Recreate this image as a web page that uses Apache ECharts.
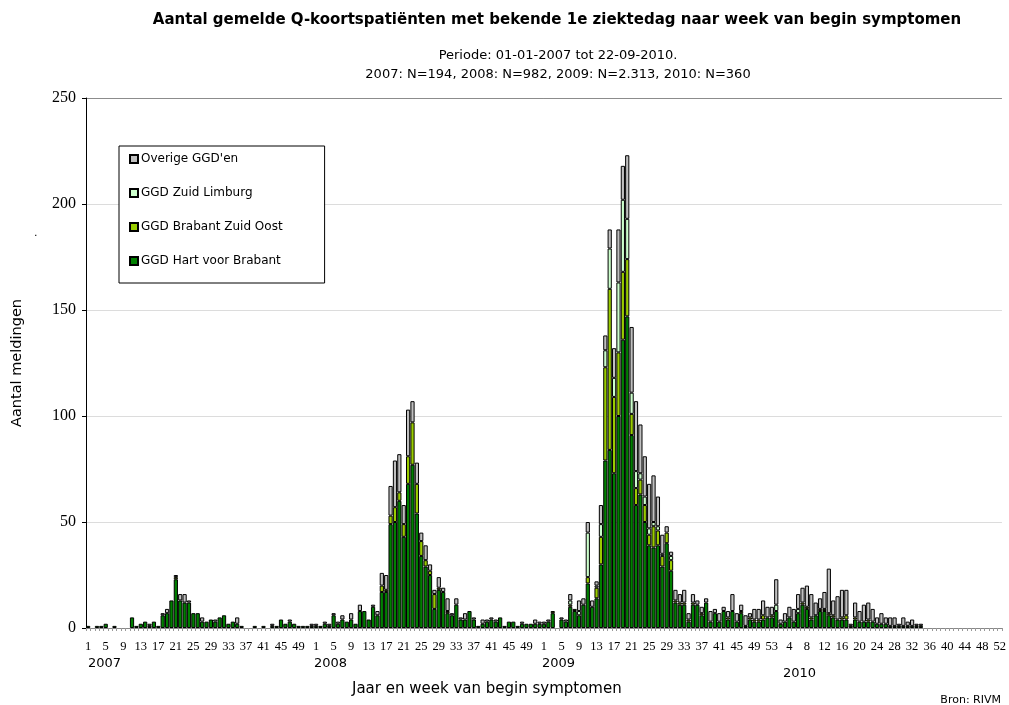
<!DOCTYPE html>
<html>
<head>
<meta charset="utf-8">
<script src="https://cdn.jsdelivr.net/npm/echarts@6/dist/echarts.min.js"></script>
<style>html,body{margin:0;padding:0;background:#fff}#c{width:1009px;height:705px}</style>
</head>
<body>
<div id="c"></div>
<script>
// Weeks per year on the category axis
const years = [2007, 2008, 2009, 2010];
const weeksPerYear = [52, 52, 53, 52];

// GGD Hart voor Brabant (dark green)
const hartVoorBrabant = [
  // 2007
  1,0,1,1,2,0,1,0,0,0, 5,1,2,3,1,3,1,6,7,13, 23,13,12,12,7,7,3,3,4,3, 5,6,2,3,2,1,0,0,1,0, 1,0,1,1,4,2,3,2,1,1, 1,1,
  // 2008
  1,1,2,1,6,2,4,3,4,2, 8,8,4,10,6,17,17,49,50,60, 43,68,77,54,34,29,25,9,18,17, 7,6,11,4,4,8,4,1,2,3, 4,3,5,1,3,3,1,2,2,2, 2,2,
  // 2009
  2,3,7,0,4,3,10,8,6,11, 21,10,14,30,79,84,73,100,136,147, 91,58,63,50,39,38,39,29,40,27, 12,11,11,3,11,11,6,12,3,7, 3,8,4,8,3,7,1,4,3,3, 4,5,5,
  // 2010
  8,2,3,5,3,7,11,9,4,6, 8,8,6,5,4,4,4,1,4,3, 3,3,3,2,2,2,1,1,1,1, 1,1,1,1,0,0,0,0,0,0, 0,0,0,0,0,0,0,0,0,0, 0,0
];
// GGD Brabant Zuid Oost (yellow green)
const brabantZuidOost = [
  // 2007
  0,0,0,0,0,0,0,0,0,0, 0,0,0,0,0,0,0,0,0,0, 1,0,0,0,0,0,0,0,0,0, 0,0,0,0,0,0,0,0,0,0, 0,0,0,0,0,0,0,0,0,0, 0,0,
  // 2008
  0,0,0,0,0,0,0,0,0,0, 0,0,0,0,0,3,1,4,7,4, 6,13,20,14,7,3,2,7,1,0, 1,0,0,0,0,0,0,0,0,0, 0,0,0,0,0,0,0,0,0,0, 0,0,
  // 2009
  0,0,1,0,0,0,1,1,0,0, 3,0,5,13,44,76,36,30,32,27, 10,8,7,8,5,10,7,5,5,5, 1,1,1,1,1,0,1,0,0,0, 0,0,1,0,0,1,0,1,1,1, 2,0,1,
  // 2010
  0,0,0,0,0,0,1,1,1,0, 1,1,1,1,0,1,2,0,1,0, 0,1,0,0,0,0,0,0,0,0, 0,0,0,0,0,0,0,0,0,0, 0,0,0,0,0,0,0,0,0,0, 0,0
];
// GGD Zuid Limburg (light green)
const zuidLimburg = [
  // 2007
  0,0,0,0,0,0,0,0,0,0, 0,0,0,0,0,0,0,0,0,0, 0,0,0,0,0,0,0,0,0,0, 0,0,0,0,0,0,0,0,0,0, 0,0,0,0,0,0,0,0,0,0, 0,0,
  // 2008
  0,0,0,0,0,0,0,0,0,0, 0,0,0,0,0,0,0,0,0,0, 0,0,0,0,0,0,0,0,0,0, 0,0,0,0,0,0,0,0,0,0, 0,0,0,0,0,0,0,0,0,0, 0,0,
  // 2009
  0,0,0,0,0,0,2,0,2,0, 21,0,1,6,8,19,9,33,34,19, 10,8,3,4,3,2,2,1,0,2, 0,0,0,0,0,0,0,0,0,0, 0,0,0,0,0,0,0,0,0,0, 0,0,0,
  // 2010
  3,0,0,0,0,2,0,0,0,0, 0,0,0,0,0,0,0,0,0,0, 0,0,0,0,0,0,0,0,0,0, 0,0,0,0,0,0,0,0,0,0, 0,0,0,0,0,0,0,0,0,0, 0,0
];
// Overige GGD'en (grey)
const overigeGGDen = [
  // 2007
  0,0,0,0,0,0,0,0,0,0, 0,0,0,0,1,0,0,1,2,0, 1,3,4,1,0,0,2,0,0,1, 0,0,0,0,3,0,0,0,0,0, 0,0,1,0,0,0,1,0,0,0, 0,1,
  // 2008
  1,0,1,1,1,1,2,0,3,0, 3,0,0,1,2,6,7,14,22,18, 9,22,10,10,4,7,3,2,5,2, 6,1,3,1,3,0,1,0,2,1, 1,1,0,0,0,0,0,1,0,0, 2,1,
  // 2009
  1,1,0,0,1,1,3,0,5,3, 5,3,2,9,7,9,14,25,16,30, 31,33,23,19,21,22,14,9,3,2, 5,4,6,3,4,2,3,2,5,2, 4,2,3,8,4,3,5,2,5,5, 7,5,4,
  // 2010
  12,2,4,5,6,7,7,10,11,6, 5,8,21,7,11,13,12,1,7,5, 8,8,6,3,5,3,4,4,1,4, 2,3,1,1,0,0,0,0,0,0, 0,0,0,0,0,0,0,0,0,0, 0,0
];

const seriesNames = ['GGD Hart voor Brabant', 'GGD Brabant Zuid Oost', 'GGD Zuid Limburg', "Overige GGD'en"];
const seriesColors = ['#008000', '#99CC00', '#CCFFCC', '#C0C0C0'];
const yTicks = [0, 50, 100, 150, 200, 250];

// Category labels: week numbers of each year
const weekLabels = [];
years.forEach((y, k) => { for (let w = 1; w <= weeksPerYear[k]; w++) weekLabels.push(String(w)); });

const allData = [hartVoorBrabant, brabantZuidOost, zuidLimburg, overigeGGDen];
const chart = echarts.init(document.getElementById('c'), null, { renderer: 'canvas' });

const sans = 'DejaVu Sans';
const option = {
  animation: false,
  backgroundColor: '#fff',
  title: [
    { text: 'Aantal gemelde Q-koortspatiënten met bekende 1e ziektedag naar week van begin symptomen',
      left: 552, top: 8, textAlign: 'center',
      textStyle: { fontFamily: sans, fontSize: 15, fontWeight: 'bold', color: '#000' } },
    { text: 'Periode: 01-01-2007 tot 22-09-2010.\n2007: N=194, 2008: N=982, 2009: N=2.313, 2010: N=360',
      left: 553, top: 41, textAlign: 'center',
      textStyle: { fontFamily: sans, fontSize: 13, fontWeight: 'normal', color: '#000', lineHeight: 19 } }
  ],
  legend: {
    orient: 'vertical', left: 119, top: 146,
    data: ["Overige GGD'en", 'GGD Zuid Limburg', 'GGD Brabant Zuid Oost', 'GGD Hart voor Brabant'],
    icon: 'rect', itemWidth: 8, itemHeight: 8, itemGap: 20,
    padding: [6, 42, 15, 10],
    borderColor: '#000', borderWidth: 1, backgroundColor: '#fff',
    textStyle: { fontFamily: sans, fontSize: 12, color: '#000', lineHeight: 14, padding: [0,0,0,-2] }
  },
  grid: { left: 86, right: 7, top: 98, bottom: 77 },
  xAxis: {
    type: 'category', data: weekLabels,
    axisLine: { lineStyle: { color: '#888', width: 1 } },
    axisTick: { show: true, interval: 0, length: 3, lineStyle: { color: '#999' } },
    axisLabel: { interval: 3, margin: 12, fontFamily: 'Liberation Serif', fontSize: 12.5, color: '#000' },
    splitLine: { show: false }
  },
  yAxis: {
    type: 'value', min: yTicks[0], max: yTicks[yTicks.length - 1], interval: 50,
    name: 'Aantal meldingen', nameLocation: 'middle', nameRotate: 90, nameGap: 61,
    nameTextStyle: { fontFamily: sans, fontSize: 14.5, color: '#000' },
    axisLine: { show: true, lineStyle: { color: '#000' } },
    axisTick: { show: true, length: 4, lineStyle: { color: '#000' } },
    axisLabel: { fontFamily: 'Liberation Serif', fontSize: 16, color: '#000', margin: 10 },
    splitLine: { show: true, lineStyle: { color: ['#fff', '#dcdcdc', '#dcdcdc', '#dcdcdc', '#dcdcdc', '#8c8c8c'] } }
  },
  graphic: [
    { type: 'text', left: 88, top: 657, style: { text: '2007', font: '13px "DejaVu Sans"', fill: '#000' } },
    { type: 'text', left: 314, top: 657, style: { text: '2008', font: '13px "DejaVu Sans"', fill: '#000' } },
    { type: 'text', left: 542, top: 657, style: { text: '2009', font: '13px "DejaVu Sans"', fill: '#000' } },
    { type: 'text', left: 783, top: 667, style: { text: '2010', font: '13px "DejaVu Sans"', fill: '#000' } },
    { type: 'text', left: 352, top: 682, style: { text: 'Jaar en week van begin symptomen', font: '15px "DejaVu Sans"', fill: '#000' } },
    { type: 'text', right: 8, top: 695, style: { text: 'Bron: RIVM', font: '11px "DejaVu Sans"', fill: '#000' } },
    { type: 'text', left: 34, top: 228, style: { text: '.', font: '11px "DejaVu Sans"', fill: '#000' } }
  ],
  series: allData.map((arr, k) => ({
    name: seriesNames[k], type: 'bar', stack: 'total',
    data: arr.map(v => (v === 0 ? '-' : v)),
    barCategoryGap: '4%',
    itemStyle: { color: seriesColors[k], borderColor: '#000', borderWidth: 1 },
    emphasis: { disabled: true }
  }))
};
chart.setOption(option);
</script>
</body>
</html>
